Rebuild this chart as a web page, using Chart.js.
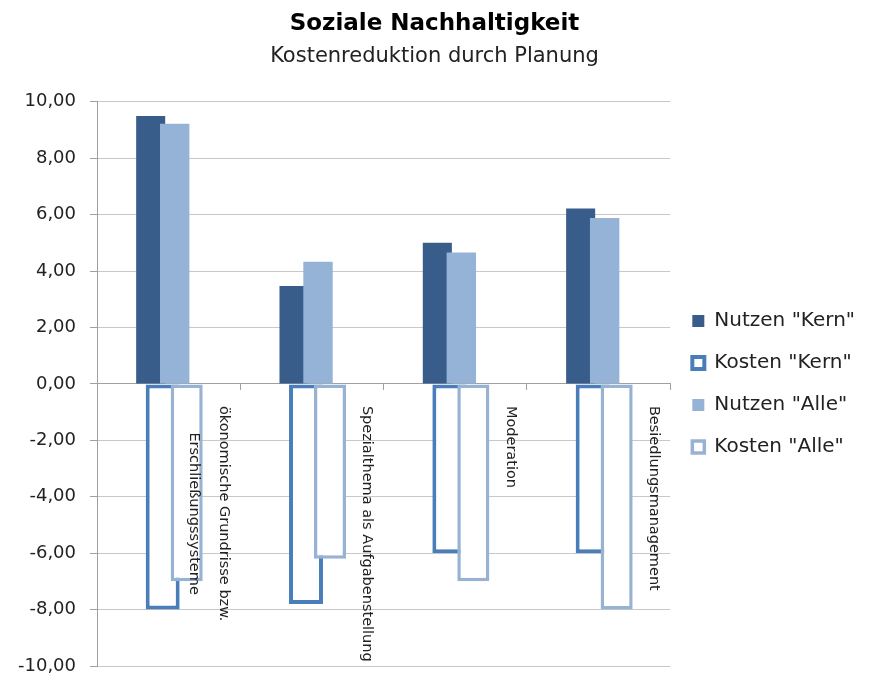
<!DOCTYPE html>
<html>
<head>
<meta charset="utf-8">
<script src="https://cdn.jsdelivr.net/npm/chart.js@4"></script>
<style>
  body { margin: 0; background: #fff; }
  #wrap { width: 876px; height: 675px; position: relative; }
</style>
</head>
<body>
<div id="wrap"><canvas id="chart"></canvas></div>
<script>
// Categories (x axis) and series values
const categories = [
    ['ökonomische Grundrisse bzw.', 'Erschließungssysteme'],
    'Spezialthema als Aufgabenstellung',
    'Moderation',
    'Besiedlungsmanagement'
];
const nutzenKern = [9.5, 3.47, 5.0, 6.22];
const kostenKern = [-8.0, -7.8, -6.0, -6.0];
const nutzenAlle = [9.22, 4.33, 4.66, 5.88];
const kostenAlle = [-7.0, -6.2, -7.0, -8.0];
const empty = [null, null, null, null]; // spacer slots so the bars overlap like in Excel

const FONT = '"DejaVu Sans", sans-serif';

// second bar type so the "Alle" bars get their own slot group and draw on top
class BarAlle extends Chart.BarController {}
BarAlle.id = 'barAlle';
BarAlle.defaults = Chart.BarController.defaults;
Chart.register(BarAlle);

// rotated category labels hanging below the zero line
const categoryLabels = {
    id: 'categoryLabels',
    afterDatasetsDraw(chart) {
        const xs = chart.scales.x;
        const ys = chart.scales.y;
        const ctx = chart.ctx;
        const top = ys.getPixelForValue(0) + 22;
        const shift = (xs.getPixelForTick(1) - xs.getPixelForTick(0)) * 0.385;
        ctx.save();
        ctx.font = '14.5px ' + FONT;
        ctx.fillStyle = '#222';
        categories.forEach((label, i) => {
            const lines = [].concat(label);
            const maxW = Math.max(...lines.map(l => ctx.measureText(l).width));
            ctx.save();
            ctx.translate(xs.getPixelForTick(i) + shift, top);
            ctx.rotate(Math.PI / 2);
            ctx.textAlign = 'center';
            ctx.textBaseline = 'middle';
            lines.forEach((l, j) => ctx.fillText(l, maxW / 2, j * 30));
            ctx.restore();
        });
        ctx.restore();
    }
};

const ctx = document.getElementById('chart').getContext('2d');
const chart = new Chart(ctx, {
    type: 'bar',
    data: {
        labels: categories,
        datasets: [
            {
                label: 'Nutzen "Kern"',
                data: nutzenKern,
                order: 1,
                backgroundColor: '#385d8a',
                borderWidth: 0,
                barPercentage: 2.42
            },
            {
                label: 'Kosten "Kern"',
                data: kostenKern,
                order: 1,
                backgroundColor: '#ffffff',
                borderColor: '#4a7ebb',
                borderWidth: 4,
                borderSkipped: false,
                barPercentage: 2.83
            },
            {
                type: 'barAlle',
                label: 'Nutzen "Alle"',
                data: nutzenAlle,
                order: 0,
                backgroundColor: '#95b3d7',
                borderWidth: 0,
                barPercentage: 2.45
            },
            {
                type: 'barAlle',
                label: 'Kosten "Alle"',
                data: kostenAlle,
                order: 0,
                backgroundColor: '#ffffff',
                borderColor: '#98b2d4',
                borderWidth: 3.5,
                borderSkipped: false,
                barPercentage: 2.67
            },
            { label: '', data: empty, order: 1 },
            { label: '', data: empty, order: 1 },
            { type: 'barAlle', label: '', data: empty, order: -1 },
            { type: 'barAlle', label: '', data: empty, order: -1 }
        ]
    },
    options: {
        responsive: true,
        maintainAspectRatio: false,
        animation: false,
        datasets: {
            bar: { categoryPercentage: 0.335 },
            barAlle: { categoryPercentage: 0.335 }
        },
        layout: {
            padding: { left: 4, right: 11, top: 0, bottom: 9 }
        },
        scales: {
            x: {
                type: 'category',
                position: { y: 0 },
                stacked: false,
                ticks: { display: false },
                grid: {
                    drawOnChartArea: false,
                    drawTicks: true,
                    tickLength: 6,
                    color: '#a0a0a0'
                },
                border: { display: true, color: '#a0a0a0', width: 1 }
            },
            y: {
                stacked: false,
                min: -10,
                max: 10,
                // let the bottom label hang over the edge like in the original
                afterFit: scale => { scale.paddingBottom = 0; },
                ticks: {
                    stepSize: 2,
                    padding: 14,
                    color: '#222',
                    font: { family: FONT, size: 18 },
                    callback: v => v.toFixed(2).replace('.', ',')
                },
                grid: {
                    color: '#c8c8c8',
                    tickLength: 7,
                    tickColor: '#a0a0a0'
                },
                border: { display: true, color: '#a0a0a0' }
            }
        },
        plugins: {
            tooltip: { enabled: false },
            title: {
                display: true,
                text: 'Soziale Nachhaltigkeit',
                color: '#000',
                font: { family: FONT, size: 23, weight: 'bold' },
                padding: { top: 10, bottom: 2 }
            },
            subtitle: {
                display: true,
                text: 'Kostenreduktion durch Planung',
                color: '#222',
                font: { family: FONT, size: 21 },
                padding: { top: 4, bottom: 33 }
            },
            legend: {
                position: 'right',
                fullSize: false,
                labels: {
                    color: '#222',
                    font: { family: FONT, size: 20 },
                    boxWidth: 12,
                    boxHeight: 12,
                    padding: 22,
                    filter: item => item.text !== '',
                    sort: (a, b) => a.datasetIndex - b.datasetIndex
                }
            }
        }
    },
    plugins: [categoryLabels]
});
</script>
</body>
</html>
